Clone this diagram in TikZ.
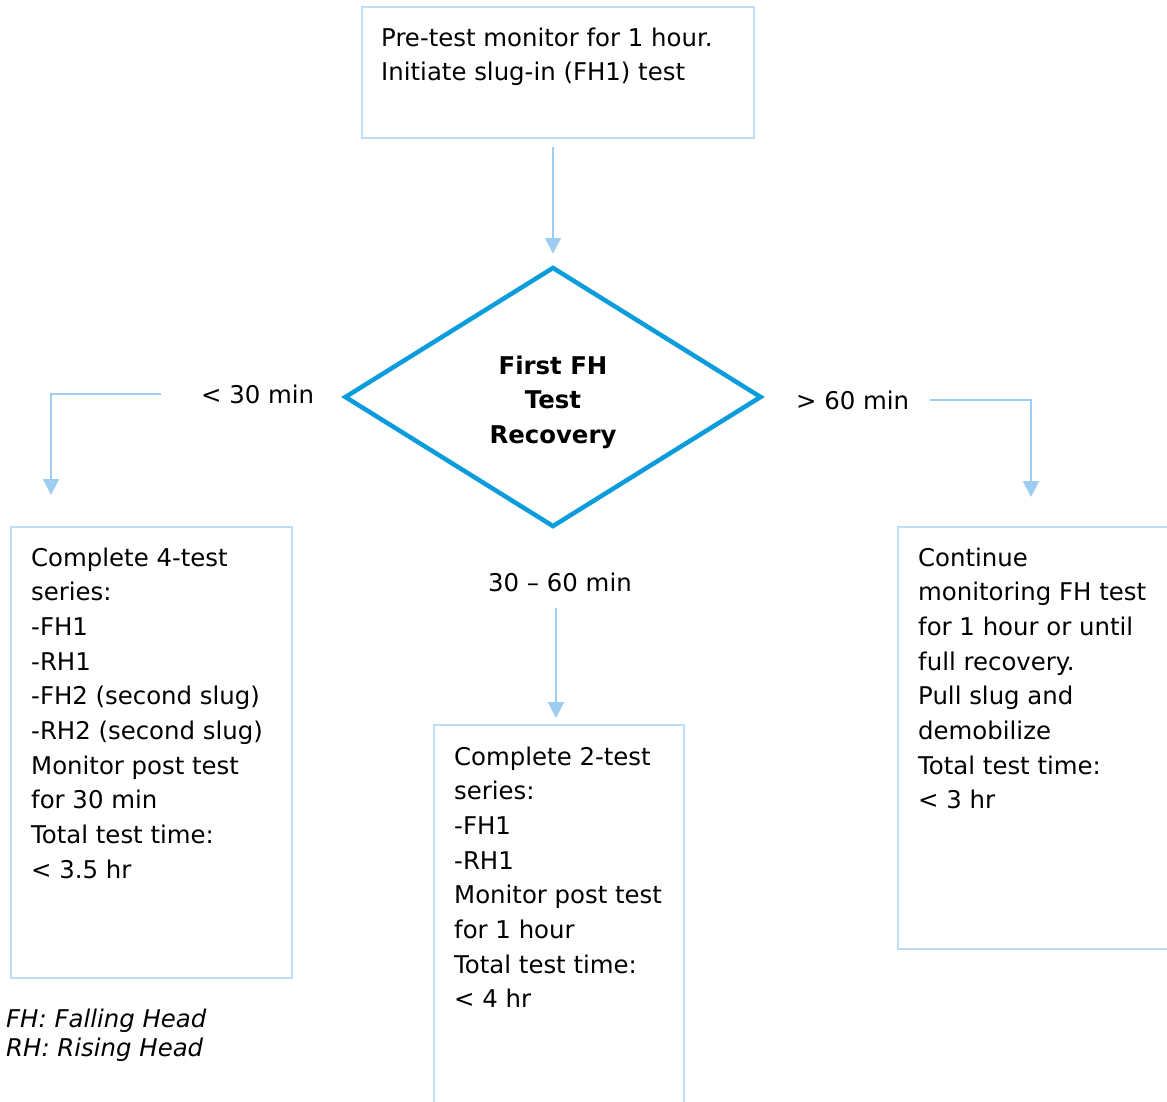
\documentclass[tikz,border=0pt]{standalone}
\usepackage{fontspec}
\setmainfont{DejaVu Sans}
\usetikzlibrary{arrows.meta,shapes.geometric}
\definecolor{boxline}{RGB}{190,222,246}
\definecolor{arrline}{RGB}{157,205,241}
\definecolor{diablue}{RGB}{11,157,219}
\tikzset{
  boxnode/.style={draw=boxline,line width=1.5pt,rectangle,anchor=north west,inner sep=0pt},
  txt/.style={anchor=base west,align=left,inner sep=0pt,font=\fontsize{24.4}{34.7}\selectfont},
  lbl/.style={anchor=base west,inner sep=0pt,font=\fontsize{24.4}{34.7}\selectfont},
  arr/.style={draw=arrline,line width=2pt,-{Triangle[width=16pt,length=16pt,fill=arrline]}},
}
\begin{document}
\begin{tikzpicture}[x=1pt,y=-1pt]
\useasboundingbox (0,0) rectangle (1167,1101);
\clip (0,0) rectangle (1167,1101);
% boxes
\node[boxnode,minimum width=392pt,minimum height=131pt] (top) at (361,6) {};
\node[boxnode,minimum width=281pt,minimum height=451pt] (left) at (10,526) {};
\node[boxnode,minimum width=250pt,minimum height=400pt] (mid) at (433,724) {};
\node[boxnode,minimum width=290pt,minimum height=422pt] (right) at (897,526) {};
% diamond
\node[diamond,draw=diablue,line width=4.5pt,minimum width=417pt,minimum height=260pt,inner sep=0pt,aspect=1.6] (dia) at (553,397) {};
% base anchor of a multi-line node = baseline of its last line
\node[anchor=base,align=center,inner sep=0pt,font=\fontsize{24.4}{34.7}\selectfont\bfseries] (diatxt) at (553,443.4) {First FH\\Test\\Recovery};
% texts
\node[txt] (toptxt) at (381,80.7) {Pre-test monitor for 1 hour.\\Initiate slug-in (FH1) test};
\node[txt] (lefttxt) at (31,878.3) {Complete 4-test\\series:\\-FH1\\-RH1\\-FH2 (second slug)\\-RH2 (second slug)\\Monitor post test\\for 30 min\\Total test time:\\< 3.5 hr};
\node[txt] (midtxt) at (454,1007.9) {Complete 2-test\\series:\\-FH1\\-RH1\\Monitor post test\\for 1 hour\\Total test time:\\< 4 hr};
\node[txt] (righttxt) at (918,808.9) {Continue\\monitoring FH test\\for 1 hour or until\\full recovery.\\Pull slug and\\demobilize\\Total test time:\\< 3 hr};
\node[anchor=base west,align=left,inner sep=0pt,font=\fontsize{24.4}{29.5}\selectfont\itshape] (legend) at (6,1056.5) {FH: Falling Head\\RH: Rising Head};
% labels
\node[lbl] (l30) at (201,403) {< 30 min};
\node[lbl] (l60) at (796,409) {> 60 min};
\node[anchor=base,inner sep=0pt,font=\fontsize{24.4}{34.7}\selectfont] (l3060) at (560,591) {30 – 60 min};
% connector coordinates
\coordinate (lstart) at (161,394);
\coordinate (lend) at (51,495);
\coordinate (rstart) at (930,400);
\coordinate (rend) at (1031,497);
\coordinate (mstart) at (556,608);
\coordinate (mend) at (556,718);
% connectors
\draw[arr,shorten <=8pt,shorten >=11pt] (dia.north |- top.south) -- (dia.north);
\draw[arr] (lstart) -| (lend);
\draw[arr] (rstart) -| (rend);
\draw[arr] (mstart) -- (mend);
\end{tikzpicture}
\end{document}
